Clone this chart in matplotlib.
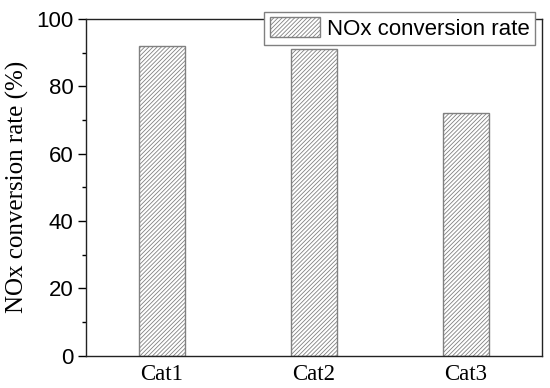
import matplotlib
matplotlib.use("Agg")
import matplotlib.pyplot as plt
from matplotlib.ticker import MultipleLocator

categories = ["Cat1", "Cat2", "Cat3"]
values = [92, 91, 72]
series_label = "NOx conversion rate"
ylabel = "NOx conversion rate (%)"

plt.rcParams['hatch.linewidth'] = 0.6
plt.rcParams['hatch.color'] = '#707070'

fig = plt.figure(figsize=(5.5, 3.88), dpi=100)
ax = fig.add_axes([0.156, 0.0833, 0.829, 0.868])

x = list(range(1, len(categories) + 1))
ax.bar(x, values, width=0.3, color='white', edgecolor='#808080',
       hatch='////////', linewidth=1.0, label=series_label)

ax.set_xlim(0.5, 3.5)
ax.set_ylim(0, 100)
ax.set_xticks(x)
ax.set_xticklabels(categories, fontfamily='Liberation Serif', fontsize=16.5)
ax.yaxis.set_major_locator(MultipleLocator(20))
ax.yaxis.set_minor_locator(MultipleLocator(10))
for lab in ax.get_yticklabels():
    lab.set_fontfamily('Liberation Sans')
    lab.set_fontsize(16)
ax.tick_params(axis='y', which='major', direction='out', length=6, width=1.0, pad=3)
ax.tick_params(axis='y', which='minor', direction='out', length=3, width=1.0)
ax.tick_params(axis='x', which='both', length=0, pad=6)
ax.set_ylabel(ylabel, fontfamily='Liberation Serif', fontsize=18, labelpad=5)

for s in ax.spines.values():
    s.set_linewidth(1.0)
    s.set_color('#222222')

leg = ax.legend(loc='upper right', bbox_to_anchor=(0.985, 1.021), borderaxespad=0,
                borderpad=0.25, handlelength=2.25, handleheight=1.0, handletextpad=0.3,
                fancybox=False, framealpha=1, edgecolor='#808080',
                prop={'family': 'Liberation Sans', 'size': 16})
leg.get_frame().set_linewidth(1.0)

fig.savefig("out.png", dpi=100)
